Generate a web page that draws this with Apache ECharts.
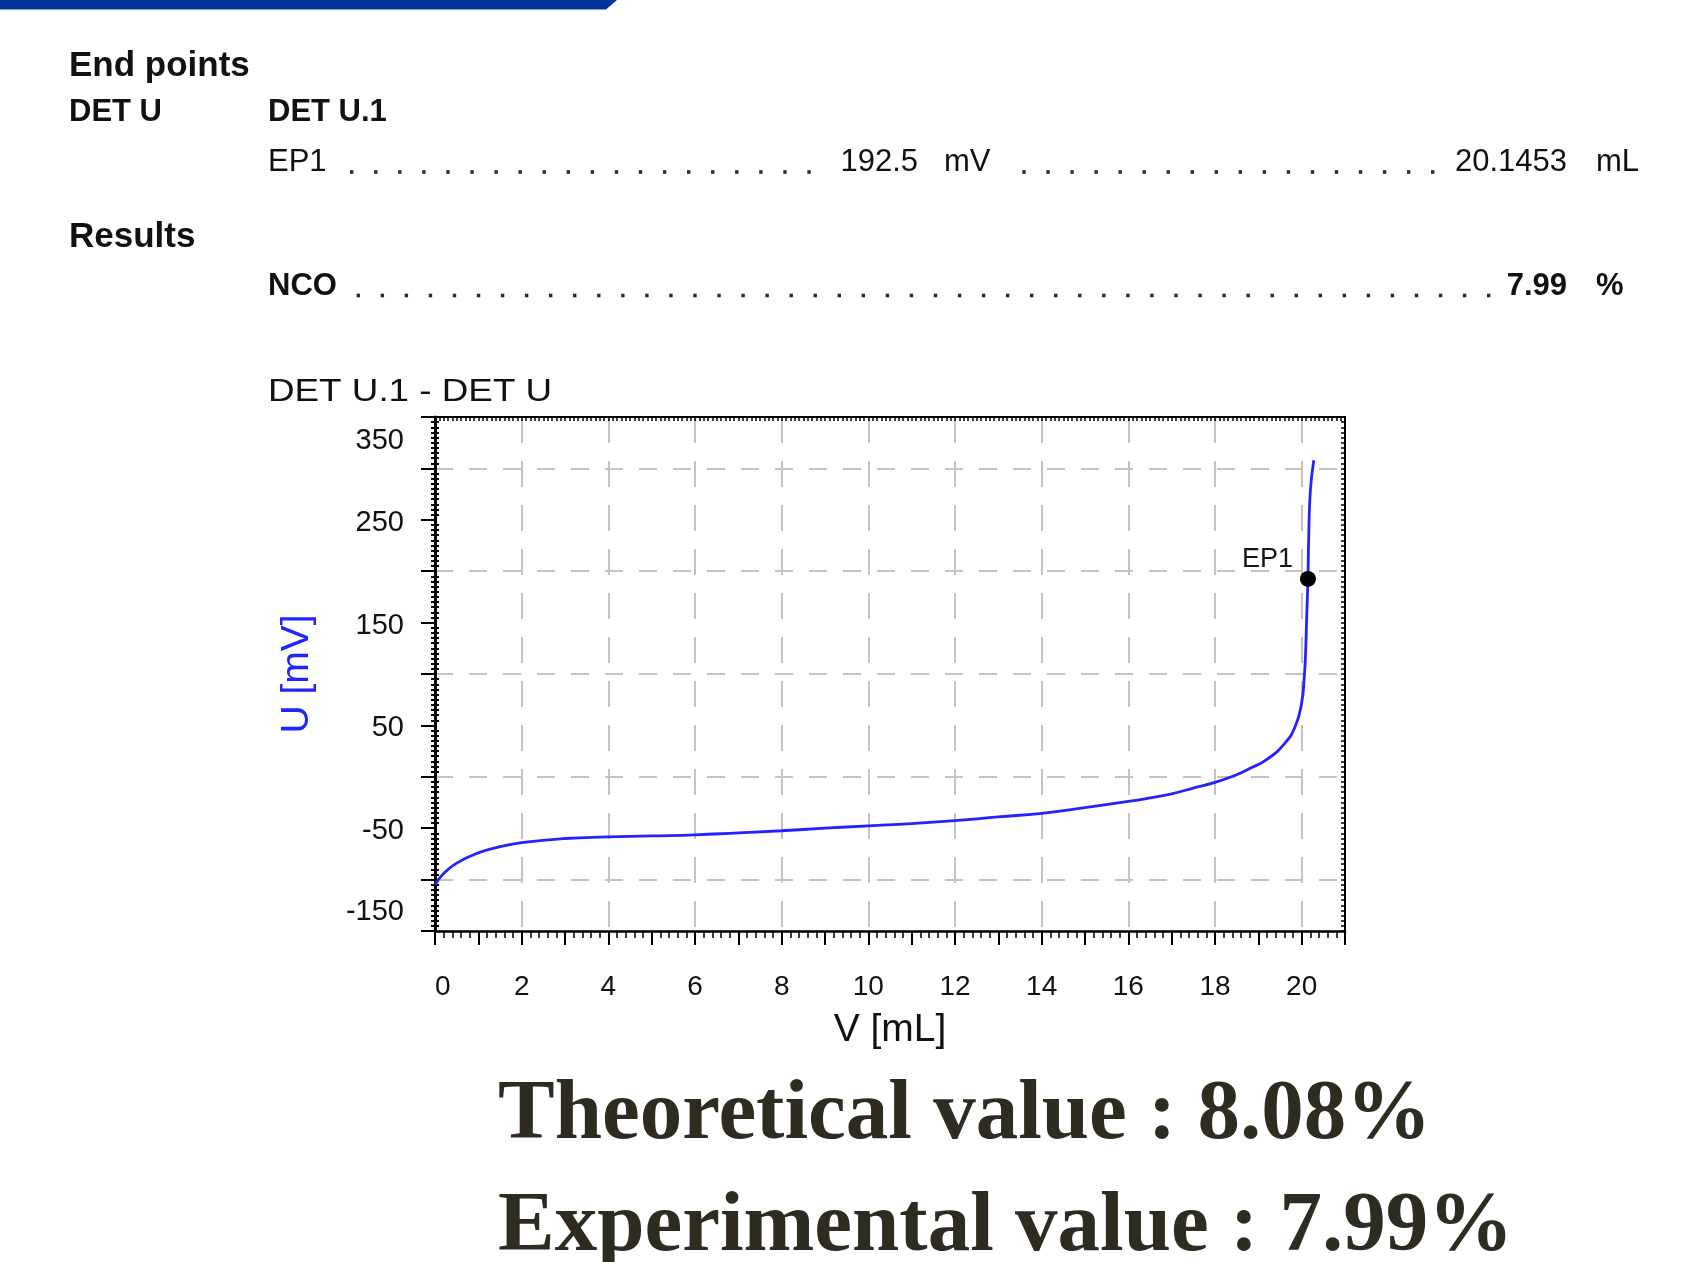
<!DOCTYPE html>
<html>
<head>
<meta charset="utf-8">
<script src="https://cdn.jsdelivr.net/npm/echarts@6/dist/echarts.min.js"></script>
<style>
html,body{margin:0;padding:0;background:#ffffff;}
#chart{width:1696px;height:1262px;}
</style>
</head>
<body>
<div id="chart"></div>
<script>
// ---- data ----
const volume = [0, 0.2, 0.5, 1, 1.5, 2, 3, 4, 5, 6, 7, 8, 9, 10, 11, 12, 13, 14, 15, 16, 16.5, 17, 17.5, 18, 18.5, 18.8, 19.2, 19.6, 19.85, 20.0, 20.06, 20.09, 20.12, 20.1453, 20.16, 20.2, 20.28];
const potential = [-105, -94, -84, -74, -68, -64, -60, -58.5, -57.5, -56.5, -54.5, -52.5, -50, -47.7, -45.5, -42.6, -39, -35.5, -30, -24, -20.5, -16.5, -11, -5.5, 2, 8, 17, 32, 49, 72, 97, 120, 160, 192.5, 228, 278, 308];
const endPointNames = ['EP1'];
const endPointVolume = [20.1453];
const endPointPotential = [192.5];
const xTickLabels = ['0', '2', '4', '6', '8', '10', '12', '14', '16', '18', '20'];
const yTickLabels = ['-150', '-50', '50', '150', '250', '350'];
const xRange = [0, 21];
const yRange = [-150, 350];

const SANS = '"Liberation Sans", Arial, Helvetica, sans-serif';
const SERIF = '"Liberation Serif", "Times New Roman", Times, serif';
const LINE_BLUE = '#2323ff';

function txt(x, y, text, size, weight, align, extra) {
  return Object.assign({
    type: 'text', x: x, y: y, z: 10,
    style: { text: text, font: weight + ' ' + size + 'px ' + SANS, fill: '#111111', align: align || 'left', verticalAlign: 'middle' }
  }, extra || {});
}
function leader(x0, n, step, yc) {
  const out = [];
  for (let i = 0; i < n; i++) {
    out.push({ type: 'rect', z: 10, shape: { x: x0 + i * step - 1.7, y: yc - 1.8, width: 3.4, height: 3.6 }, style: { fill: '#2a2a2a' } });
  }
  return out;
}

const graphics = [
  { type: 'polygon', z: 10, shape: { points: [[0, 0], [617, 0], [606, 9.5], [0, 9.5]] }, style: { fill: '#00349b' } },
  txt(69, 66, 'End points', 35, 'bold'),
  txt(69, 112, 'DET U', 31, 'bold'),
  txt(268, 112, 'DET U.1', 31, 'bold'),
  txt(268, 162.5, 'EP1', 31, 'normal'),
  txt(918, 162.5, '192.5', 31, 'normal', 'right'),
  txt(944, 162.5, 'mV', 31, 'normal'),
  txt(1567, 162.5, '20.1453', 31, 'normal', 'right'),
  txt(1596, 162.5, 'mL', 31, 'normal'),
  txt(69, 237, 'Results', 35, 'bold'),
  txt(268, 286.5, 'NCO', 31, 'bold'),
  txt(1567, 286.5, '7.99', 31, 'bold', 'right'),
  txt(1596, 286.5, '%', 31, 'bold'),
  txt(268, 392, 'DET U.1 - DET U', 32, 'normal', 'left', { scaleX: 1.15 }),
  { type: 'text', x: 498, y: 1116, z: 10, style: { text: 'Theoretical value : 8.08%', font: 'bold 85px ' + SERIF, fill: '#2e2b20', align: 'left', verticalAlign: 'middle' } },
  { type: 'text', x: 498, y: 1228.5, z: 10, style: { text: 'Experimental value : 7.99%', font: 'bold 85px ' + SERIF, fill: '#2e2b20', align: 'left', verticalAlign: 'middle' } }
].concat(leader(351.7, 20, 24.07, 172), leader(1024, 18, 24.04, 172), leader(358.3, 48, 24.05, 295.5));

const tickColor = '#000000';

const option = {
  backgroundColor: '#ffffff',
  animation: false,
  grid: { left: 435, top: 417, width: 910, height: 514, containLabel: false, outerBoundsMode: 'none' },
  xAxis: [
    {
      type: 'value', position: 'bottom', min: xRange[0], max: xRange[1], interval: 1,
      name: 'V [mL]', nameLocation: 'middle', nameGap: 80,
      nameTextStyle: { fontFamily: SANS, fontSize: 39, color: '#111111' },
      axisLine: { show: true, onZero: false, lineStyle: { color: tickColor, width: 2.5 } },
      axisTick: { show: true, length: 14, lineStyle: { color: tickColor, width: 2 } },
      minorTick: { show: true, splitNumber: 5, length: 7, lineStyle: { color: tickColor, width: 1.5 } },
      axisLabel: {
        show: true, margin: 42, fontFamily: SANS, fontSize: 28, color: '#111111', alignMinLabel: 'left',
        formatter: function (v) { const s = String(v); return xTickLabels.indexOf(s) >= 0 ? s : ''; }
      },
      splitLine: { show: true, lineStyle: { color: ['#c3c3c3', 'rgba(0,0,0,0)'], width: 2, type: [26, 18] } },
      minorSplitLine: { show: false }
    },
    {
      type: 'value', position: 'top', min: xRange[0], max: xRange[1], interval: 1,
      axisLine: { show: true, onZero: false, lineStyle: { color: tickColor, width: 2 } },
      axisTick: { show: true, inside: true, length: 4, lineStyle: { color: tickColor, width: 1.5 } },
      minorTick: { show: true, splitNumber: 10, length: 4, lineStyle: { color: tickColor, width: 1.5 } },
      axisLabel: { show: false }, splitLine: { show: false }
    }
  ],
  yAxis: [
    {
      type: 'value', position: 'left', min: yRange[0], max: yRange[1], interval: 50,
      name: 'U [mV]', nameLocation: 'middle', nameGap: 118,
      nameTextStyle: { fontFamily: SANS, fontSize: 39, color: LINE_BLUE },
      axisLine: { show: true, onZero: false, lineStyle: { color: tickColor, width: 3 } },
      axisTick: { show: true, length: 14, lineStyle: { color: tickColor, width: 2 } },
      minorTick: { show: true, splitNumber: 10, length: 4, lineStyle: { color: tickColor, width: 2 } },
      axisLabel: {
        show: true, margin: 31, fontFamily: SANS, fontSize: 29, color: '#111111',
        formatter: function (v) {
          const s = String(v);
          if (yTickLabels.indexOf(s) < 0) return '';
          if (v === yRange[1]) return '{top|' + s + '}';
          if (v === yRange[0]) return '{bot|' + s + '}';
          return '{n|' + s + '}';
        },
        rich: {
          n: { fontFamily: SANS, fontSize: 29, color: '#111111', padding: [6, 0, 0, 0] },
          top: { fontFamily: SANS, fontSize: 29, color: '#111111', padding: [48, 0, 0, 0] },
          bot: { fontFamily: SANS, fontSize: 29, color: '#111111', padding: [0, 0, 38, 0] }
        }
      },
      splitLine: { show: true, lineStyle: { color: ['rgba(0,0,0,0)', '#c3c3c3'], width: 2, type: [18, 16] } },
      minorSplitLine: { show: false }
    },
    {
      type: 'value', position: 'left', offset: 0, min: yRange[0], max: yRange[1], interval: 50,
      axisLine: { show: false },
      axisTick: { show: false, inside: true, length: 4 },
      minorTick: { show: true, splitNumber: 10, length: 4, lineStyle: { color: tickColor, width: 2 } },
      axisLabel: { show: false }, splitLine: { show: false }
    },
    {
      type: 'value', position: 'right', min: yRange[0], max: yRange[1], interval: 50,
      axisLine: { show: true, onZero: false, lineStyle: { color: tickColor, width: 2 } },
      axisTick: { show: true, inside: true, length: 4, lineStyle: { color: tickColor, width: 1.5 } },
      minorTick: { show: true, splitNumber: 10, length: 4, lineStyle: { color: tickColor, width: 1.5 } },
      axisLabel: { show: false }, splitLine: { show: false }
    }
  ],
  series: [
    {
      type: 'line', xAxisIndex: 0, yAxisIndex: 0,
      data: volume.map(function (v, i) { return [v, potential[i]]; }),
      showSymbol: false, smooth: 0.5,
      lineStyle: { color: LINE_BLUE, width: 2.8 }, z: 5
    },
    {
      type: 'scatter', xAxisIndex: 0, yAxisIndex: 0,
      data: endPointVolume.map(function (v, i) { return { value: [v, endPointPotential[i]], name: endPointNames[i] }; }),
      symbol: 'circle', symbolSize: 16, itemStyle: { color: '#000000', opacity: 1 }, z: 6,
      label: { show: true, position: 'left', distance: 7, offset: [0, -19], formatter: '{b}', fontFamily: SANS, fontSize: 27, color: '#151515' }
    }
  ],
  graphic: graphics
};

const chart = echarts.init(document.getElementById('chart'), null, { renderer: 'canvas' });
chart.setOption(option);
</script>
</body>
</html>
